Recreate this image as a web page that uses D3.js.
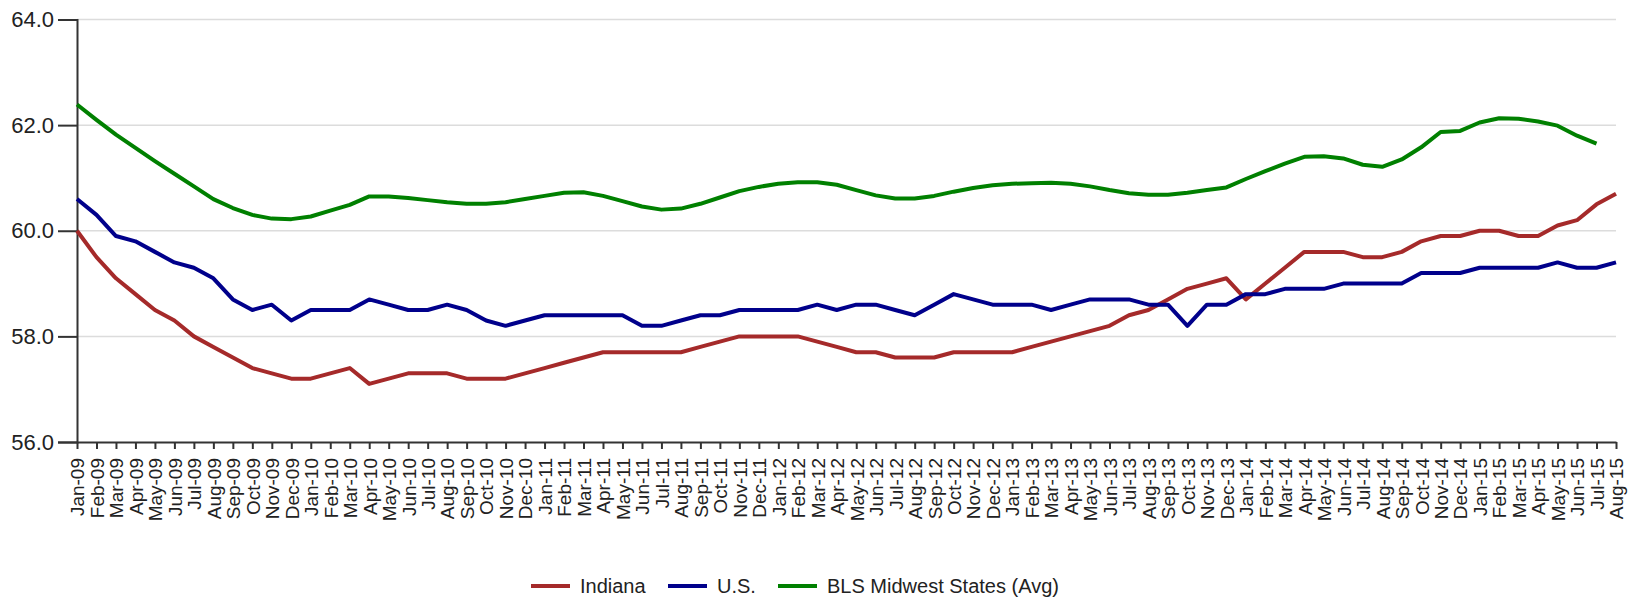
<!DOCTYPE html>
<html><head><meta charset="utf-8">
<script src="https://cdn.jsdelivr.net/npm/d3@7"></script>
<style>html,body{margin:0;padding:0;background:#fff;}svg{display:block;}</style>
</head><body>
<svg id="chart" width="1633" height="599"></svg>
<script>
const months = ["Jan-09","Feb-09","Mar-09","Apr-09","May-09","Jun-09","Jul-09","Aug-09","Sep-09","Oct-09","Nov-09","Dec-09",
"Jan-10","Feb-10","Mar-10","Apr-10","May-10","Jun-10","Jul-10","Aug-10","Sep-10","Oct-10","Nov-10","Dec-10",
"Jan-11","Feb-11","Mar-11","Apr-11","May-11","Jun-11","Jul-11","Aug-11","Sep-11","Oct-11","Nov-11","Dec-11",
"Jan-12","Feb-12","Mar-12","Apr-12","May-12","Jun-12","Jul-12","Aug-12","Sep-12","Oct-12","Nov-12","Dec-12",
"Jan-13","Feb-13","Mar-13","Apr-13","May-13","Jun-13","Jul-13","Aug-13","Sep-13","Oct-13","Nov-13","Dec-13",
"Jan-14","Feb-14","Mar-14","Apr-14","May-14","Jun-14","Jul-14","Aug-14","Sep-14","Oct-14","Nov-14","Dec-14",
"Jan-15","Feb-15","Mar-15","Apr-15","May-15","Jun-15","Jul-15","Aug-15"];

const indiana = [60.0,59.5,59.1,58.8,58.5,58.3,58.0,57.8,57.6,57.4,57.3,57.2,
57.2,57.3,57.4,57.1,57.2,57.3,57.3,57.3,57.2,57.2,57.2,57.3,
57.4,57.5,57.6,57.7,57.7,57.7,57.7,57.7,57.8,57.9,58.0,58.0,
58.0,58.0,57.9,57.8,57.7,57.7,57.6,57.6,57.6,57.7,57.7,57.7,
57.7,57.8,57.9,58.0,58.1,58.2,58.4,58.5,58.7,58.9,59.0,59.1,
58.7,59.0,59.3,59.6,59.6,59.6,59.5,59.5,59.6,59.8,59.9,59.9,
60.0,60.0,59.9,59.9,60.1,60.2,60.5,60.7];

const us = [60.6,60.3,59.9,59.8,59.6,59.4,59.3,59.1,58.7,58.5,58.6,58.3,
58.5,58.5,58.5,58.7,58.6,58.5,58.5,58.6,58.5,58.3,58.2,58.3,
58.4,58.4,58.4,58.4,58.4,58.2,58.2,58.3,58.4,58.4,58.5,58.5,
58.5,58.5,58.6,58.5,58.6,58.6,58.5,58.4,58.6,58.8,58.7,58.6,
58.6,58.6,58.5,58.6,58.7,58.7,58.7,58.6,58.6,58.2,58.6,58.6,
58.8,58.8,58.9,58.9,58.9,59.0,59.0,59.0,59.0,59.2,59.2,59.2,
59.3,59.3,59.3,59.3,59.4,59.3,59.3,59.4];

const midwest = [62.39,62.10,61.82,61.57,61.32,61.08,60.84,60.60,60.43,60.30,60.23,60.22,
60.27,60.38,60.49,60.65,60.65,60.62,60.58,60.54,60.51,60.51,60.54,60.60,
60.66,60.72,60.73,60.66,60.56,60.46,60.40,60.42,60.51,60.63,60.75,60.83,
60.89,60.92,60.92,60.87,60.77,60.67,60.61,60.61,60.66,60.74,60.81,60.86,
60.89,60.90,60.91,60.89,60.84,60.77,60.71,60.68,60.68,60.72,60.77,60.82,
60.98,61.13,61.27,61.40,61.41,61.37,61.25,61.21,61.35,61.58,61.87,61.89,
62.05,62.13,62.12,62.07,61.99,61.80,61.65,null];

const yTicks = [56, 58, 60, 62, 64];
const seriesNames = ["Indiana", "U.S.", "BLS Midwest States (Avg)"];
const seriesColors = ["#a52a2a", "#00008b", "#008000"];
const seriesData = [indiana, us, midwest];

const svg = d3.select("#chart");
const plotLeft = 77, plotRight = 1616, plotTop = 19.5, plotBottom = 442;

const x = d3.scalePoint().domain(months).range([plotLeft, plotRight]);
const y = d3.scaleLinear().domain([56, 64]).range([plotBottom, plotTop]);

// gridlines
svg.append("g").selectAll("line").data(yTicks.filter(d => d !== 56)).join("line")
  .attr("x1", plotLeft).attr("x2", plotRight)
  .attr("y1", d => y(d)).attr("y2", d => y(d))
  .attr("stroke", "#dcdcdc").attr("stroke-width", 1.5);

// y axis
const yAxis = svg.append("g").attr("transform", `translate(${plotLeft},0)`)
  .call(d3.axisLeft(y).tickValues(yTicks).tickFormat(d3.format(".1f")).tickSize(19).tickPadding(4));
yAxis.select(".domain").attr("stroke", "#333").attr("stroke-width", 2);
yAxis.selectAll(".tick line").attr("stroke", "#333").attr("stroke-width", 2);
yAxis.selectAll("text").attr("font-family", "Liberation Sans, Arial, sans-serif")
  .attr("font-size", 22).attr("fill", "#222");

// x axis
const xAxis = svg.append("g").attr("transform", `translate(0,${plotBottom})`)
  .call(d3.axisBottom(x).tickSize(7).tickSizeOuter(0).tickPadding(4));
xAxis.select(".domain").attr("stroke", "#333").attr("stroke-width", 2);
xAxis.selectAll(".tick line").attr("stroke", "#333").attr("stroke-width", 2);
xAxis.selectAll("text")
  .attr("font-family", "Liberation Sans, Arial, sans-serif")
  .attr("font-size", 19).attr("fill", "#222")
  .attr("text-anchor", "end")
  .attr("transform", "rotate(-90)")
  .attr("x", -16).attr("y", 0).attr("dy", "0.36em");

// lines
const line = d3.line()
  .defined(d => d.v !== null)
  .x(d => x(d.m)).y(d => y(d.v));

seriesData.forEach((arr, k) => {
  svg.append("path")
    .datum(arr.map((v, i) => ({m: months[i], v})))
    .attr("fill", "none")
    .attr("stroke", seriesColors[k])
    .attr("stroke-width", 4)
    .attr("stroke-linejoin", "round")
    .attr("d", line);
});

// legend
const legendX = [531, 668, 778];
const lg = svg.append("g");
seriesNames.forEach((name, k) => {
  const g = lg.append("g").attr("transform", `translate(${legendX[k]},586)`);
  g.append("line").attr("x1", 0).attr("x2", 39).attr("y1", 0).attr("y2", 0)
    .attr("stroke", seriesColors[k]).attr("stroke-width", 4);
  g.append("text").attr("x", 49).attr("y", 0).attr("dy", "0.36em")
    .attr("font-family", "Liberation Sans, Arial, sans-serif").attr("font-size", 20)
    .attr("fill", "#222").text(name);
});
</script>
</body></html>
